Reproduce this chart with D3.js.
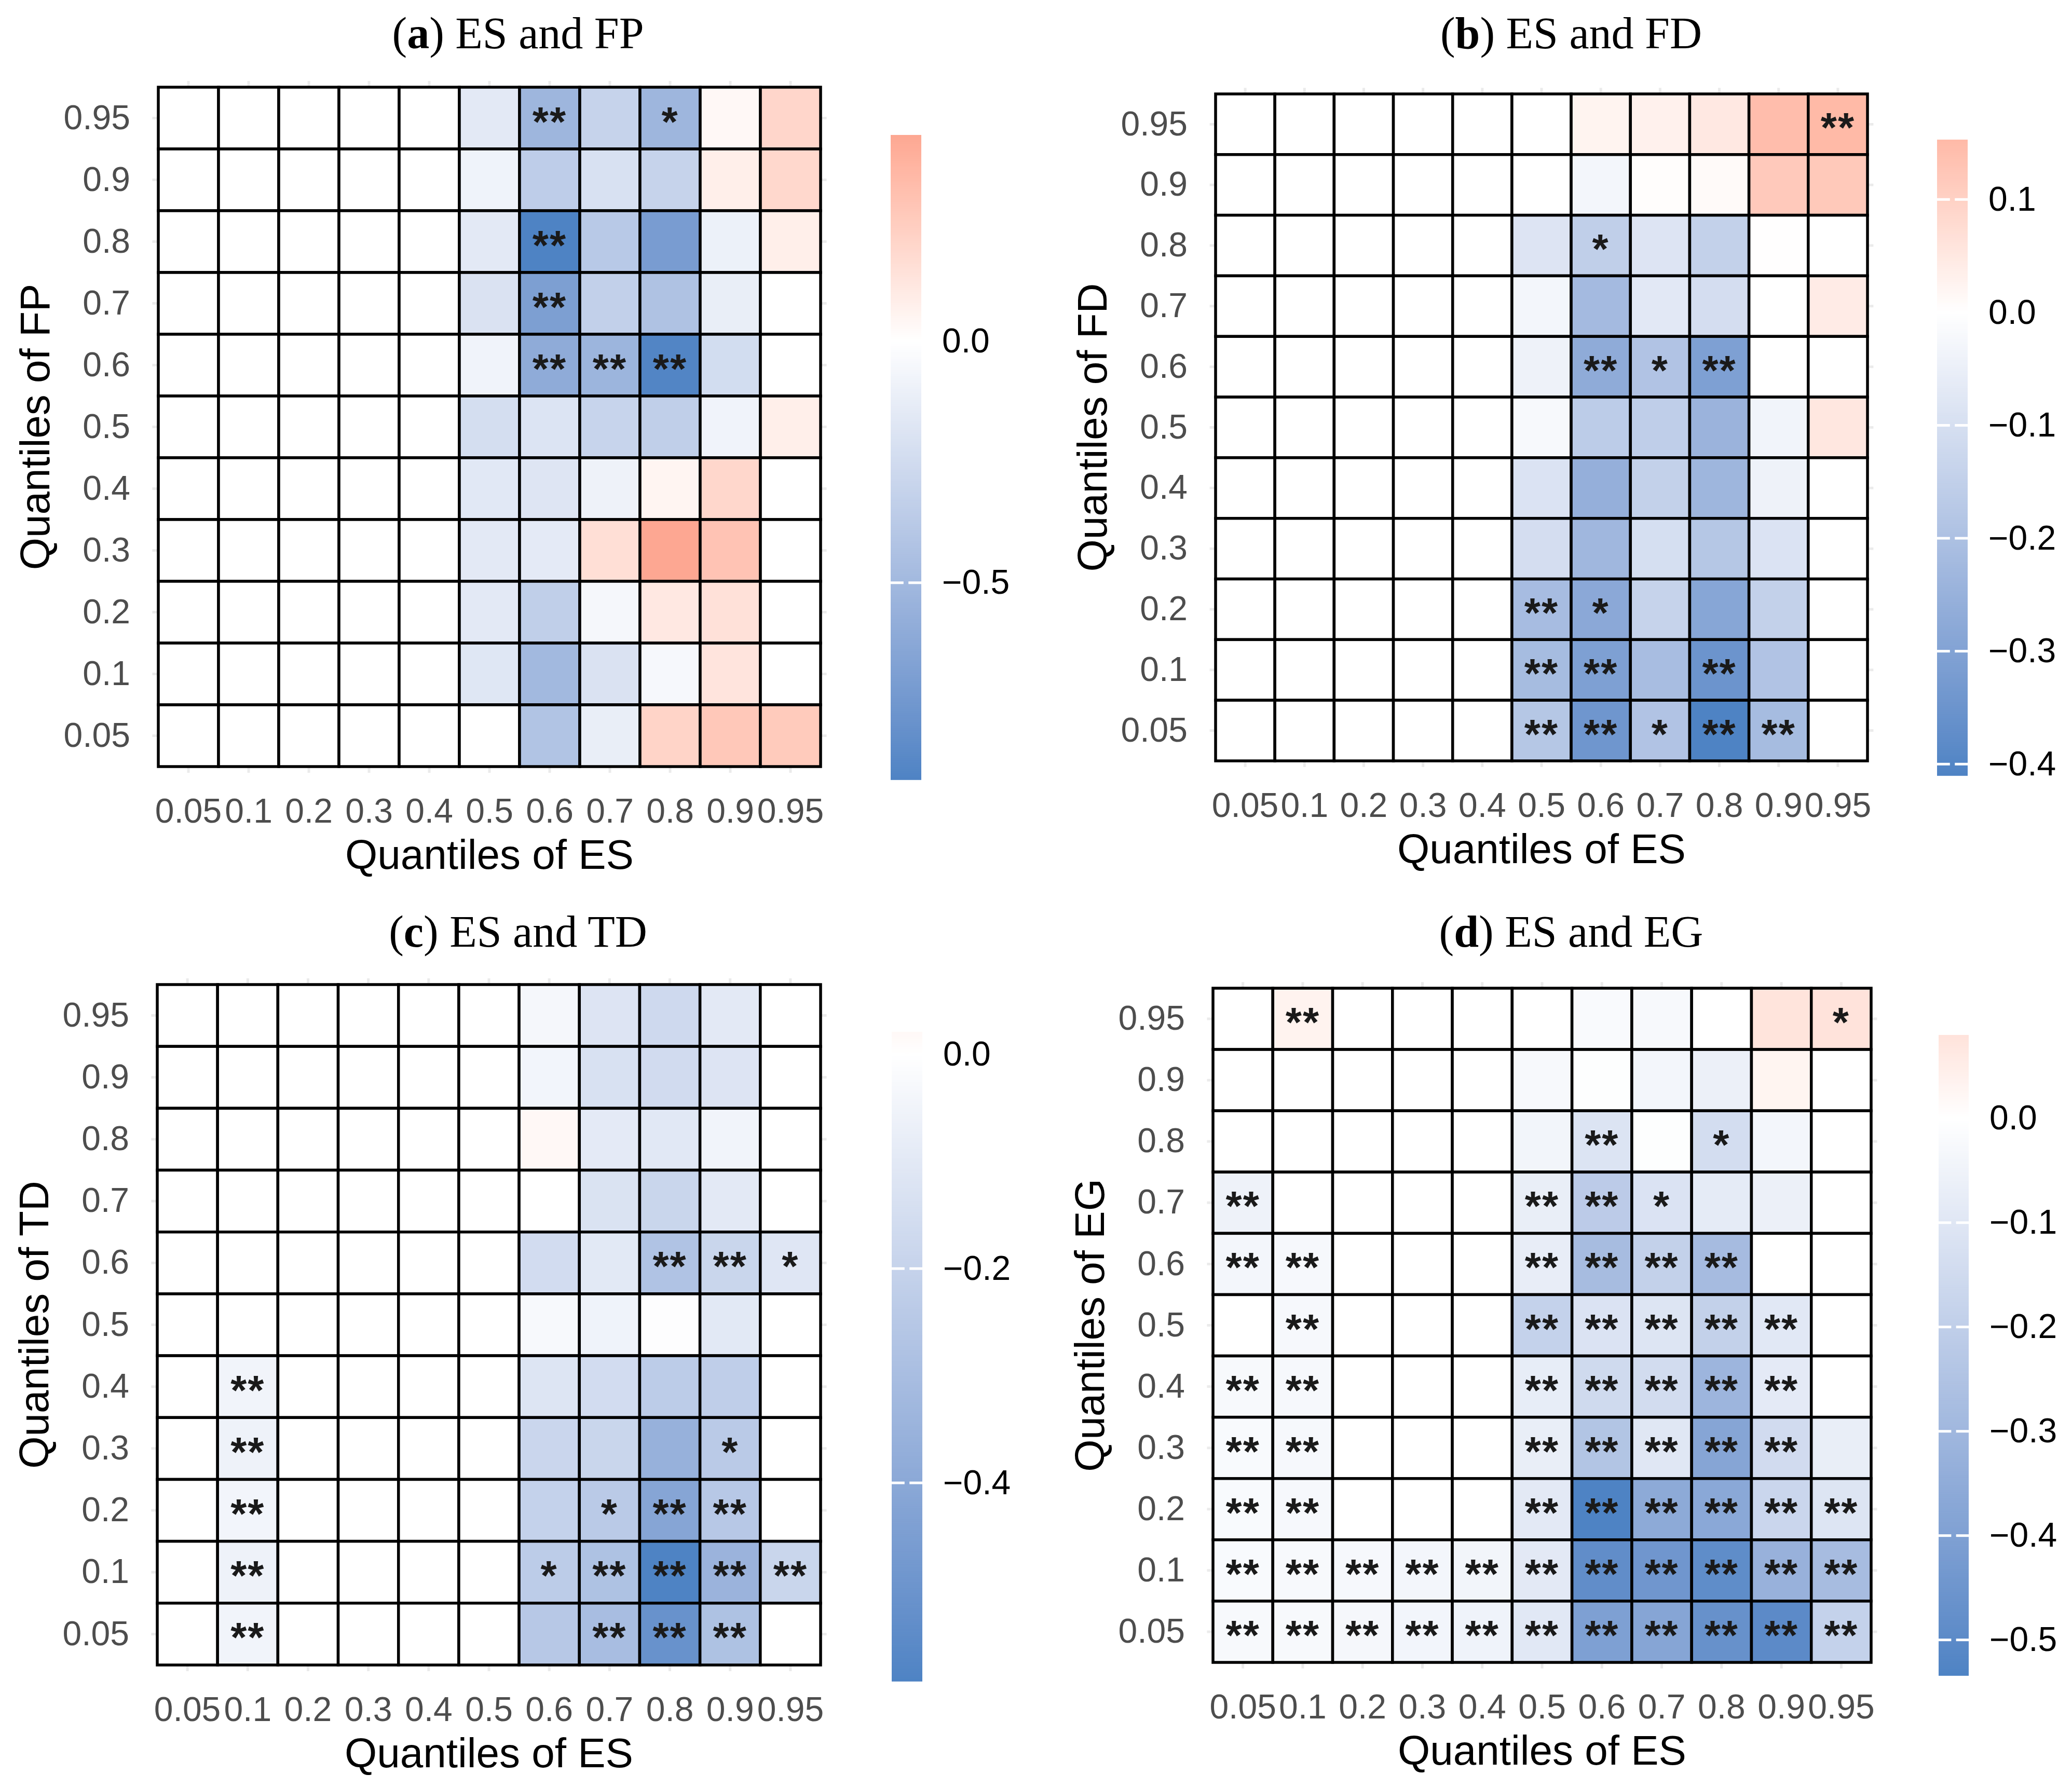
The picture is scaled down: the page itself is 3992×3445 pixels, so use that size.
<!DOCTYPE html>
<html><head><meta charset="utf-8">
<script src="https://cdn.jsdelivr.net/npm/d3@7"></script>
<style>html,body{margin:0;padding:0;background:#fff}</style>
</head><body><svg id="c" width="3992" height="3445" xmlns="http://www.w3.org/2000/svg"></svg>
<script>
// ---------------- DATA ----------------
const quantiles = ["0.05","0.1","0.2","0.3","0.4","0.5","0.6","0.7","0.8","0.9","0.95"];
// Each matrix: rows listed from top (0.95) to bottom (0.05); columns 0.05 -> 0.95
const valuesFP = [
  [0,0,0,0,0,-0.15,-0.52,-0.31,-0.52,0.035,0.20],
  [0,0,0,0,0,-0.085,-0.35,-0.21,-0.31,0.08,0.19],
  [0,0,0,0,0,-0.15,-0.907,-0.38,-0.71,-0.10,0.08],
  [0,0,0,0,0,-0.20,-0.69,-0.33,-0.43,-0.12,0],
  [0,0,0,0,0,-0.08,-0.60,-0.53,-0.89,-0.24,0],
  [0,0,0,0,0,-0.23,-0.19,-0.30,-0.34,-0.08,0.08],
  [0,0,0,0,0,-0.16,-0.18,-0.09,0.05,0.195,0],
  [0,0,0,0,0,-0.15,-0.145,0.155,0.426,0.29,0],
  [0,0,0,0,0,-0.15,-0.34,-0.055,0.11,0.145,0],
  [0,0,0,0,0,-0.17,-0.50,-0.20,-0.05,0.13,0],
  [0,0,0,0,0,0,-0.42,-0.12,0.21,0.27,0.255]
];
const starsFP = [
  "- - - - - - ** - * - -",
  "- - - - - - - - - - -",
  "- - - - - - ** - - - -",
  "- - - - - - ** - - - -",
  "- - - - - - ** ** ** - -",
  "- - - - - - - - - - -",
  "- - - - - - - - - - -",
  "- - - - - - - - - - -",
  "- - - - - - - - - - -",
  "- - - - - - - - - - -",
  "- - - - - - - - - - -"
];
const valuesFD = [
  [0,0,0,0,0,0,0.025,0.03,0.05,0.145,0.153],
  [0,0,0,0,0,0,-0.029,0.005,0.01,0.118,0.12],
  [0,0,0,0,0,-0.084,-0.154,-0.084,-0.147,0.002,0],
  [0,0,0,0,0,-0.029,-0.22,-0.071,-0.106,0,0.043],
  [0,0,0,0,0,-0.041,-0.27,-0.19,-0.31,0,0],
  [0,0,0,0,0,-0.019,-0.163,-0.157,-0.243,-0.035,0.053],
  [0,0,0,0,0,-0.087,-0.257,-0.145,-0.236,-0.041,0],
  [0,0,0,0,0,-0.106,-0.23,-0.102,-0.18,-0.087,0],
  [0,0,0,0,0,-0.214,-0.28,-0.139,-0.29,-0.145,0],
  [0,0,0,0,0,-0.216,-0.31,-0.212,-0.35,-0.19,0],
  [0,0,0,0,0,-0.18,-0.343,-0.19,-0.41,-0.216,0]
];
const starsFD = [
  "- - - - - - - - - - **",
  "- - - - - - - - - - -",
  "- - - - - - * - - - -",
  "- - - - - - - - - - -",
  "- - - - - - ** * ** - -",
  "- - - - - - - - - - -",
  "- - - - - - - - - - -",
  "- - - - - - - - - - -",
  "- - - - - ** * - - - -",
  "- - - - - ** ** - ** - -",
  "- - - - - ** ** * ** ** -"
];
const valuesTD = [
  [0,0,0,0,0,0,-0.036,-0.12,-0.17,-0.097,0],
  [0,0,0,0,0,0,-0.045,-0.134,-0.16,-0.12,0],
  [0,0,0,0,0,0,0.021,-0.093,-0.105,-0.05,0],
  [0,0,0,0,0,0,0,-0.128,-0.187,-0.097,0],
  [0,0,0,0,0,0,-0.156,-0.10,-0.274,-0.187,-0.11],
  [0,0,0,0,0,0,-0.027,-0.054,-0.008,-0.10,0],
  [0,-0.05,0,0,0,0,-0.117,-0.156,-0.233,-0.224,0],
  [0,-0.058,0,0,0,0,-0.184,-0.187,-0.36,-0.24,0],
  [0,-0.045,0,0,0,0,-0.204,-0.24,-0.417,-0.25,0],
  [0,-0.058,0,0,0,0,-0.233,-0.28,-0.585,-0.347,-0.187],
  [0,-0.05,0,0,0,0,-0.25,-0.30,-0.51,-0.28,0]
];
const starsTD = [
  "- - - - - - - - - - -",
  "- - - - - - - - - - -",
  "- - - - - - - - - - -",
  "- - - - - - - - - - -",
  "- - - - - - - - ** ** *",
  "- - - - - - - - - - -",
  "- ** - - - - - - - - -",
  "- ** - - - - - - - * -",
  "- ** - - - - - * ** ** -",
  "- ** - - - - * ** ** ** **",
  "- ** - - - - - ** ** ** -"
];
const valuesEG = [
  [0,0.035,0,0,0,0,-0.02,-0.025,0,0.078,0.08],
  [0,0,0,0,0,-0.025,-0.005,-0.037,-0.061,0.03,0],
  [0,0,0,0,0,-0.042,-0.11,-0.005,-0.139,-0.037,0],
  [-0.053,0,0,0,0,-0.07,-0.214,-0.114,-0.081,-0.061,0],
  [-0.037,-0.03,0,0,0,-0.073,-0.28,-0.19,-0.283,0,0],
  [0,-0.03,0,0,0,-0.187,-0.114,-0.107,-0.192,-0.096,0],
  [-0.025,-0.03,0,0,0,-0.075,-0.152,-0.143,-0.309,-0.085,0],
  [-0.022,-0.03,0,0,0,-0.07,-0.243,-0.10,-0.38,-0.147,-0.07],
  [-0.022,-0.03,0,0,0,-0.089,-0.534,-0.36,-0.368,-0.168,-0.107],
  [-0.022,-0.025,-0.03,-0.037,-0.042,-0.089,-0.486,-0.445,-0.49,-0.326,-0.28],
  [-0.025,-0.025,-0.033,-0.04,-0.05,-0.095,-0.404,-0.38,-0.47,-0.50,-0.187]
];
const starsEG = [
  "- ** - - - - - - - - *",
  "- - - - - - - - - - -",
  "- - - - - - ** - * - -",
  "** - - - - ** ** * - - -",
  "** ** - - - ** ** ** ** - -",
  "- ** - - - ** ** ** ** ** -",
  "** ** - - - ** ** ** ** ** -",
  "** ** - - - ** ** ** ** ** -",
  "** ** - - - ** ** ** ** ** **",
  "** ** ** ** ** ** ** ** ** ** **",
  "** ** ** ** ** ** ** ** ** ** **"
];
const ticksFP = [-0.5, 0.0];
const ticksFD = [-0.4, -0.3, -0.2, -0.1, 0.0, 0.1];
const ticksTD = [-0.4, -0.2, 0.0];
const ticksEG = [-0.5, -0.4, -0.3, -0.2, -0.1, 0.0];
const panelLetters = ["a","b","c","d"];
const panelVars = ["FP","FD","TD","EG"];

// ---------------- LAYOUT ----------------
const layout = [
  {x0:305, x1:1581, y0:168, y1:1477, cbx:1716, cbw:59, cbt:260, cbb:1502, tx:998, ty:93},
  {x0:2342, x1:3598, y0:181, y1:1466, cbx:3732, cbw:59, cbt:269, cbb:1494, tx:3027, ty:93},
  {x0:303, x1:1581, y0:1897, y1:3208, cbx:1718, cbw:59, cbt:1988, cbb:3239, tx:998, ty:1824},
  {x0:2337, x1:3605, y0:1904, y1:3203, cbx:3735, cbw:58, cbt:1994, cbb:3228, tx:3027, ty:1824}
];
const datasets = [
  {values:valuesFP, stars:starsFP, ticks:ticksFP},
  {values:valuesFD, stars:starsFD, ticks:ticksFD},
  {values:valuesTD, stars:starsTD, ticks:ticksTD},
  {values:valuesEG, stars:starsEG, ticks:ticksEG}
];

const SANS = "'Liberation Sans', Arial, sans-serif";
const SERIF = "'Liberation Serif', 'Times New Roman', serif";
const LOW = "#4E83C4", MID = "#ffffff", HIGH = "#E03422";
const svg = d3.select("#c");

function makeColor(vals){
  const [mn, mx] = d3.extent(vals.flat());
  const m = Math.max(-mn, mx);
  const neg = d3.interpolateLab(MID, LOW), pos = d3.interpolateLab(MID, HIGH);
  return {mn, mx, fill: v => v < 0 ? neg(Math.min(1, -v / m)) : pos(Math.min(1, v / m))};
}

datasets.forEach((ds, i) => {
  const p = layout[i];
  const g = svg.append("g");
  const col = makeColor(ds.values);
  const x = d3.scaleBand().domain(quantiles).range([p.x0, p.x1]);
  const y = d3.scaleBand().domain(quantiles.slice().reverse()).range([p.y0, p.y1]);
  const bw = x.bandwidth(), bh = y.bandwidth();
  const px0 = p.x0 - 0.1 * bw, px1 = p.x1 + 0.1 * bw, py0 = p.y0 - 0.1 * bh, py1 = p.y1 + 0.1 * bh;

  // grid lines (theme_minimal style)
  g.append("g").selectAll("line.v").data(quantiles).join("line")
    .attr("x1", d => x(d) + bw / 2).attr("x2", d => x(d) + bw / 2)
    .attr("y1", py0).attr("y2", py1).attr("stroke", "#EBEBEB").attr("stroke-width", 5);
  g.append("g").selectAll("line.h").data(quantiles).join("line")
    .attr("y1", d => y(d) + bh / 2).attr("y2", d => y(d) + bh / 2)
    .attr("x1", px0).attr("x2", px1).attr("stroke", "#EBEBEB").attr("stroke-width", 5);

  // tiles
  const cells = [];
  ds.values.forEach((row, r) => {
    const starRow = ds.stars[r].split(" ");
    row.forEach((v, c) => cells.push({xq: quantiles[c], yq: quantiles[10 - r], v, s: starRow[c] === "-" ? "" : starRow[c]}));
  });
  g.append("g").selectAll("rect").data(cells).join("rect")
    .attr("x", d => x(d.xq)).attr("y", d => y(d.yq))
    .attr("width", bw).attr("height", bh)
    .attr("fill", d => col.fill(d.v))
    .attr("stroke", "#000").attr("stroke-width", 5.5);
  g.append("g").selectAll("text").data(cells.filter(d => d.s)).join("text")
    .attr("x", d => x(d.xq) + bw / 2).attr("y", d => y(d.yq) + bh / 2 + 34)
    .attr("text-anchor", "middle").attr("font-family", SANS).attr("font-size", 80)
    .attr("font-weight", "bold").attr("letter-spacing", 2)
    .attr("fill", "#1a1a1a").text(d => d.s);

  // axes
  const ax = g.append("g").attr("transform", `translate(0,${p.y1})`)
    .call(d3.axisBottom(x).tickSize(0).tickPadding(61));
  const ay = g.append("g").attr("transform", `translate(${p.x0},0)`)
    .call(d3.axisLeft(y).tickSize(0).tickPadding(54));
  [ax, ay].forEach(a => {
    a.select(".domain").remove();
    a.selectAll("text").attr("font-family", SANS).attr("font-size", 66).attr("fill", "#4D4D4D");
  });

  // axis titles
  g.append("text").attr("x", (p.x0 + p.x1) / 2).attr("y", p.y1 + 197)
    .attr("text-anchor", "middle").attr("font-family", SANS).attr("font-size", 80)
    .attr("fill", "#000").text("Quantiles of ES");
  g.append("text").attr("transform", `translate(${p.x0 - 210},${(p.y0 + p.y1) / 2}) rotate(-90)`)
    .attr("text-anchor", "middle").attr("font-family", SANS).attr("font-size", 80)
    .attr("fill", "#000").text("Quantiles of " + panelVars[i]);

  // panel title
  const t = g.append("text").attr("x", p.tx).attr("y", p.ty).attr("text-anchor", "middle")
    .attr("font-family", SERIF).attr("font-size", 86).attr("fill", "#000");
  t.append("tspan").text("(");
  t.append("tspan").attr("font-weight", "bold").text(panelLetters[i]);
  t.append("tspan").text(") ES and " + panelVars[i]);

  // colour bar
  const cb = d3.scaleLinear().domain([col.mn, col.mx]).range([p.cbb, p.cbt]);
  const N = 300, step = (col.mx - col.mn) / N;
  const bins = d3.range(N).map(k => col.mn + k * step);
  g.append("g").selectAll("rect").data(bins).join("rect")
    .attr("x", p.cbx).attr("width", p.cbw)
    .attr("y", d => cb(d + step)).attr("height", d => cb(d) - cb(d + step) + 0.8)
    .attr("fill", d => col.fill(d + step / 2));
  const tl = 0.42 * p.cbw;
  g.append("g").selectAll("line.tl").data(ds.ticks).join("line")
    .attr("x1", p.cbx).attr("x2", p.cbx + tl).attr("y1", d => cb(d)).attr("y2", d => cb(d))
    .attr("stroke", "#fff").attr("stroke-width", 5);
  g.append("g").selectAll("line.tr").data(ds.ticks).join("line")
    .attr("x1", p.cbx + p.cbw - tl).attr("x2", p.cbx + p.cbw).attr("y1", d => cb(d)).attr("y2", d => cb(d))
    .attr("stroke", "#fff").attr("stroke-width", 5);
  const ac = g.append("g").attr("transform", `translate(${p.cbx + p.cbw},0)`)
    .call(d3.axisRight(cb).tickValues(ds.ticks).tickSize(0).tickPadding(40).tickFormat(d3.format(".1f")));
  ac.select(".domain").remove();
  ac.selectAll("text").attr("font-family", SANS).attr("font-size", 66).attr("fill", "#000");
});
</script>
</body></html>
